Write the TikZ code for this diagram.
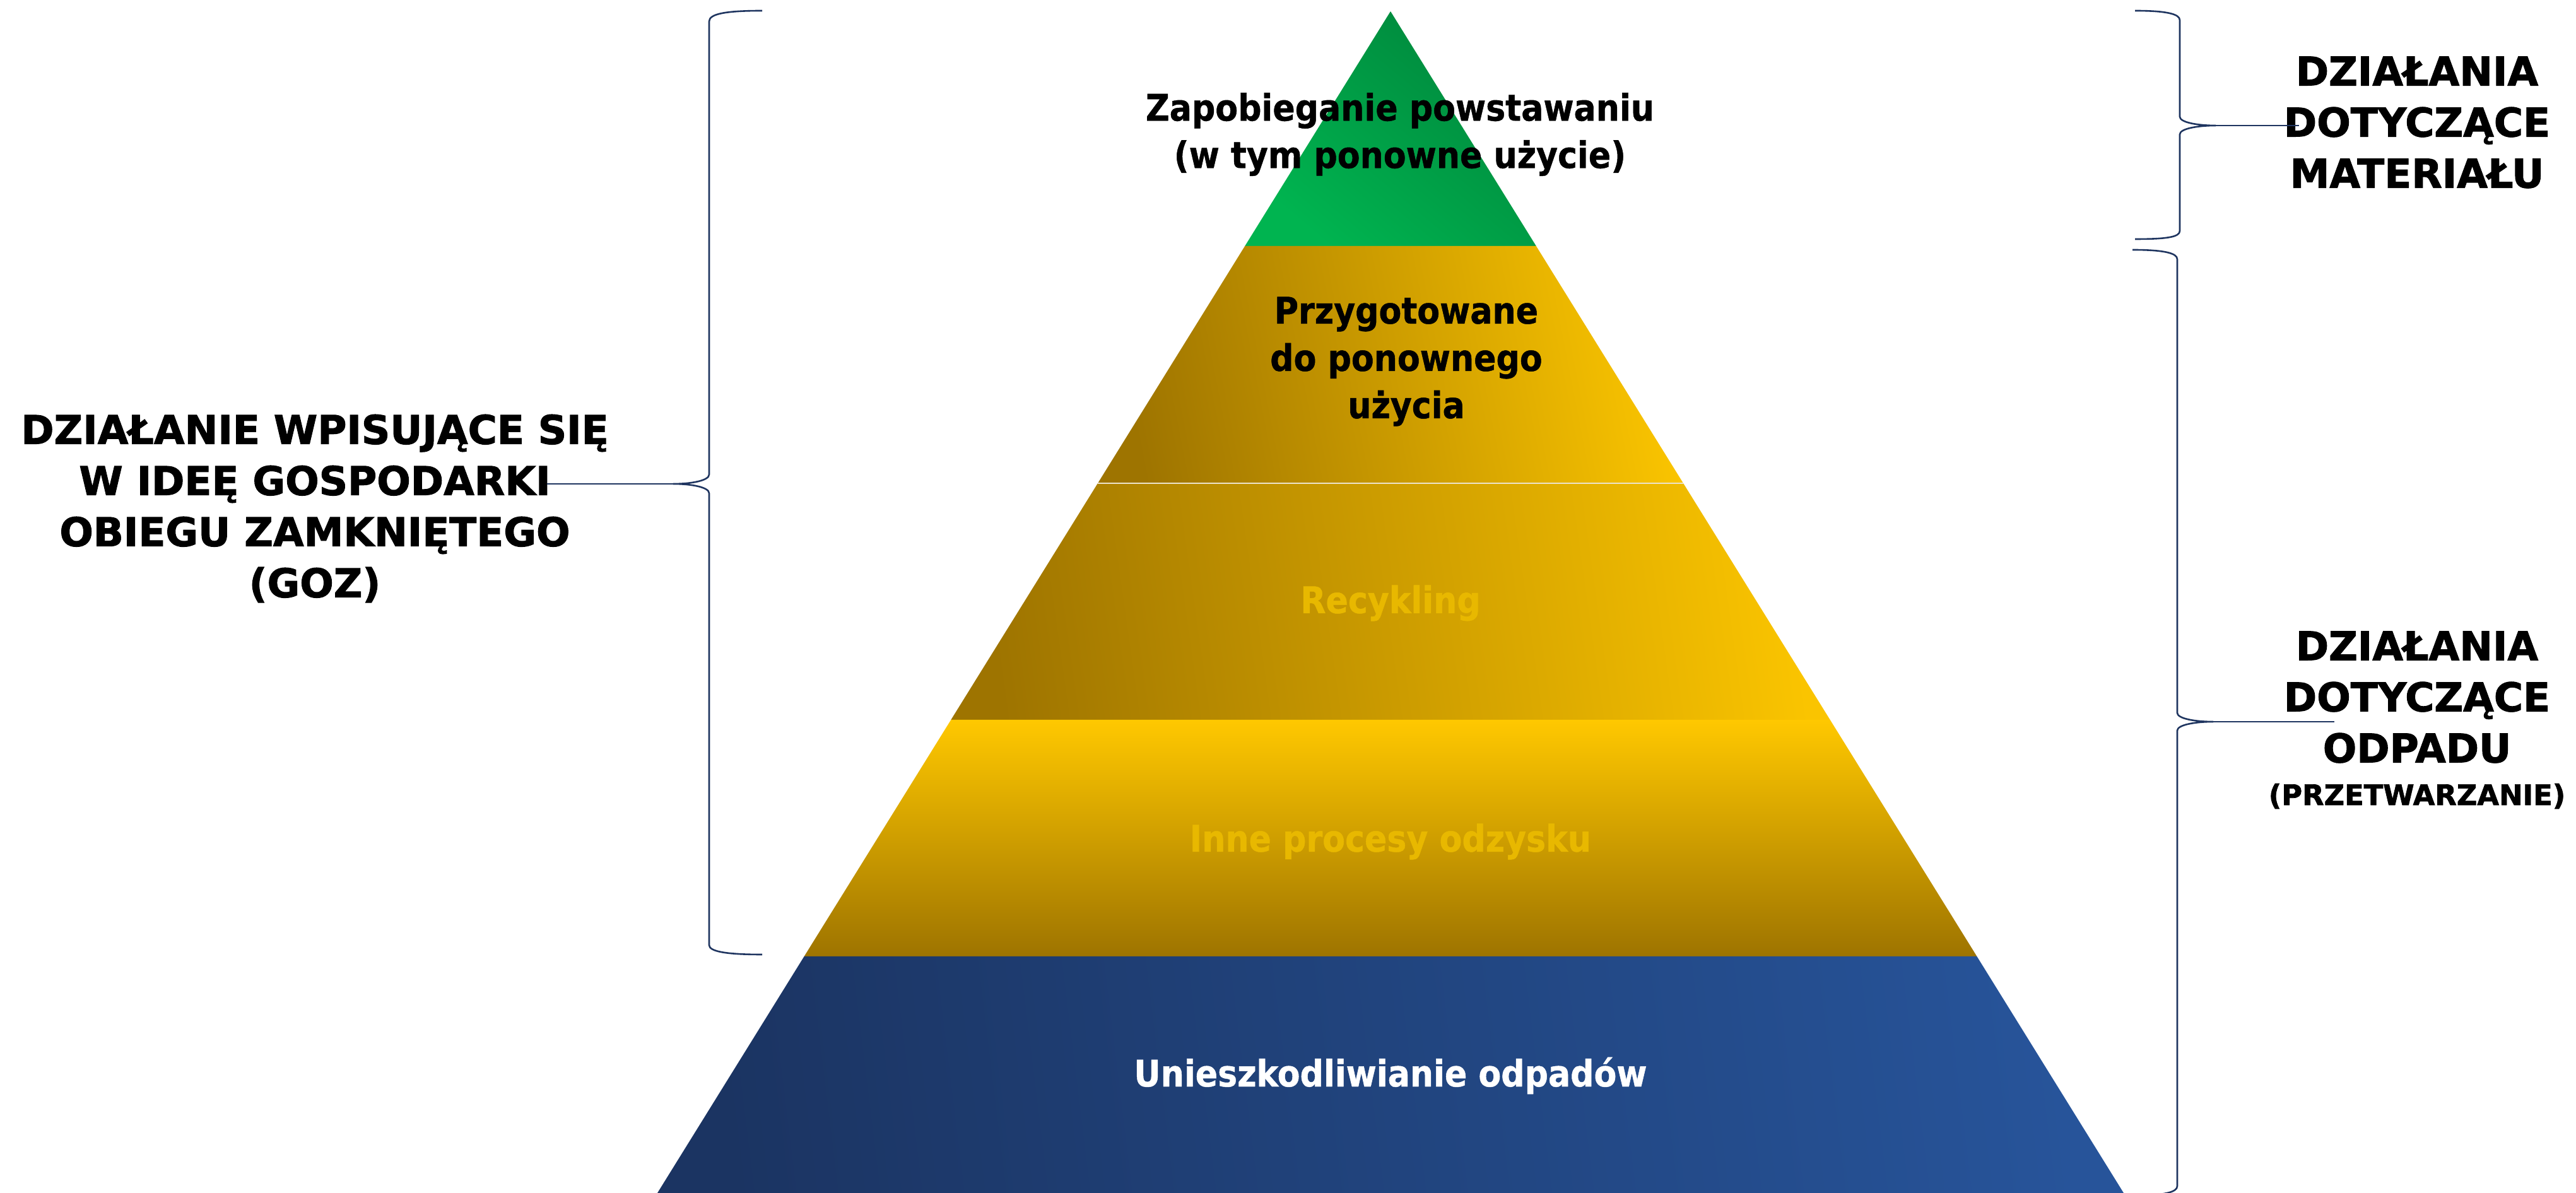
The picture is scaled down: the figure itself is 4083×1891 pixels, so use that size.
\documentclass[tikz,border=0pt]{standalone}
\usepackage{fontspec}
\setmainfont{DejaVu Sans}
\newfontfamily\pyrfont{DejaVu Sans Condensed Bold}[FakeBold=0.8]
\newfontfamily\sidefont{DejaVu Sans Bold}[FakeBold=1.6]
\usetikzlibrary{calc}
\definecolor{bracenavy}{HTML}{1F3560}
\definecolor{greenlight}{HTML}{00B450}
\definecolor{greendark}{HTML}{00873C}
\definecolor{golddark}{HTML}{9E7400}
\definecolor{goldbright}{HTML}{FAC400}
\definecolor{goldtop}{HTML}{FFC800}
\definecolor{bluedark}{HTML}{1B3462}
\definecolor{bluelight}{HTML}{27549A}
\definecolor{goldtext}{HTML}{E8B800}
\tikzset{
  pyrtext/.style={inner sep=0pt, align=center, font=\pyrfont\fontsize{14.5}{18.75}\selectfont},
  sidetext/.style={inner sep=0pt, align=center, font=\sidefont\fontsize{15.75}{20.25}\selectfont},
  smalltext/.style={inner sep=0pt, align=center, font=\sidefont\fontsize{11.2}{14}\selectfont},
  bracestyle/.style={draw=bracenavy, line width=0.65pt},
  tipline/.style={draw=bracenavy, line width=0.45pt},
  goldlevel/.style={left color=golddark, right color=goldbright, shading angle=#1},
}
\begin{document}
\begin{tikzpicture}[x=0.25pt,y=-0.25pt]
\clip (0,0) rectangle (4083,1891);
\fill[white] (0,0) rectangle (4083,1891);

% pyramid levels
\shade[top color=greendark, bottom color=greenlight, shading angle=-40]
  (2204,18) -- (2434.8,390) -- (1973.2,390) -- cycle;
\shade[goldlevel=101]
  (1973.2,390) -- (2434.8,390) -- (2668,766) -- (1740,766) -- cycle;
\shade[goldlevel=98]
  (1740,766) -- (2668,766) -- (2900.7,1141) -- (1507.3,1141) -- cycle;
\shade[top color=goldtop, bottom color=golddark]
  (1507.3,1141) -- (2900.7,1141) -- (3133.4,1516) -- (1274.6,1516) -- cycle;
\shade[left color=bluedark, right color=bluelight, shading angle=97]
  (1274.6,1516) -- (3133.4,1516) -- (3366,1891) -- (1042,1891) -- cycle;
\draw[white!80!golddark, line width=0.3pt] (1740,766) -- (2668,766);

% pyramid labels
\node[pyrtext] (zap) at (2219,213) {Zapobieganie powstawaniu\\(w tym ponowne użycie)};
\node[pyrtext] (przyg) at (2229,573) {Przygotowane\\do ponownego\\użycia};
\node[pyrtext, text=goldtext] (recyk) at (2204,956) {Recykling};
\node[pyrtext, text=goldtext] (inne) at (2204,1334) {Inne procesy odzysku};
\node[pyrtext, text=white] (unieszk) at (2204,1705) {Unieszkodliwianie odpadów};

% side labels
\node[sidetext] (goz) at (499,806) {DZIAŁANIE WPISUJĄCE SIĘ\\W IDEĘ GOSPODARKI\\OBIEGU ZAMKNIĘTEGO\\(GOZ)};
\node[sidetext] (mat) at (3831,194) {DZIAŁANIA\\DOTYCZĄCE\\MATERIAŁU};
\node[sidetext] (odp) at (3831,1105) {DZIAŁANIA\\DOTYCZĄCE\\ODPADU};
\node[smalltext] (przetw) at (3831,1262) {(PRZETWARZANIE)};

% left brace
\coordinate (Ltop) at (1208,17);
\coordinate (Ltip) at (1067,767);
\coordinate (Lbot) at (1208,1513);
\coordinate (Lend) at (867,767);
\draw[bracestyle] (Ltop) .. controls (1150,17) and (1124,22) .. (1124,34)
  -- (1124,752) .. controls (1124,762) and (1095,767) .. (Ltip)
  .. controls (1095,767) and (1124,772) .. (1124,782)
  -- (1124,1498) .. controls (1124,1508) and (1150,1513) .. (Lbot);
\draw[tipline] (Ltip) -- (Lend);

% right top brace
\coordinate (Rtop) at (3384,17);
\coordinate (Rtip) at (3512,199);
\coordinate (Rbot) at (3384,379);
\coordinate (Rend) at (3644,199);
\draw[bracestyle] (Rtop) .. controls (3433,17) and (3455,22) .. (3455,32)
  -- (3455,185) .. controls (3455,194) and (3483,199) .. (Rtip)
  .. controls (3483,199) and (3455,204) .. (3455,213)
  -- (3455,366) .. controls (3455,376) and (3433,379) .. (Rbot);
\draw[tipline] (Rtip) -- (Rend);

% right bottom brace
\coordinate (Qtop) at (3380,396);
\coordinate (Qtip) at (3508,1144);
\coordinate (Qbot) at (3380,1895);
\coordinate (Qend) at (3700,1144);
\draw[bracestyle] (Qtop) .. controls (3429,396) and (3451,401) .. (3451,411)
  -- (3451,1130) .. controls (3451,1139) and (3479,1144) .. (Qtip)
  .. controls (3479,1144) and (3451,1149) .. (3451,1158)
  -- (3451,1880) .. controls (3451,1890) and (3429,1895) .. (Qbot);
\draw[tipline] (Qtip) -- (Qend);
\end{tikzpicture}
\end{document}
